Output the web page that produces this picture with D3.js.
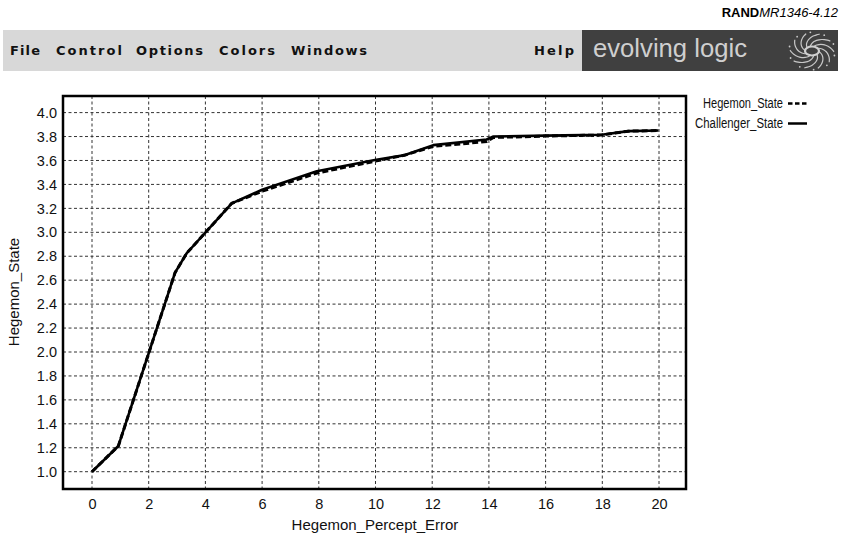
<!DOCTYPE html>
<html><head><meta charset="utf-8">
<script src="https://cdn.jsdelivr.net/npm/d3@7"></script>
<style>body{margin:0;background:#fff}svg{display:block}</style>
</head><body>
<svg id="c" width="842" height="540"></svg>
<script>
// ---- data ----
const xValues = [0, 0.93, 2.93, 3.34, 4.93, 6.0, 7.93, 9.98, 11.04, 12.04, 13.92, 14.16, 16.0, 17.98, 18.92, 19.98];
const challengerState = [1.0, 1.215, 2.663, 2.825, 3.242, 3.355, 3.51, 3.604, 3.645, 3.728, 3.775, 3.80, 3.808, 3.815, 3.845, 3.85];
const hegemonState = [1.0, 1.215, 2.663, 2.825, 3.242, 3.343, 3.495, 3.594, 3.645, 3.718, 3.758, 3.792, 3.804, 3.813, 3.845, 3.85];
const xTicks = [0, 2, 4, 6, 8, 10, 12, 14, 16, 18, 20];
const yTicks = [1.0, 1.2, 1.4, 1.6, 1.8, 2.0, 2.2, 2.4, 2.6, 2.8, 3.0, 3.2, 3.4, 3.6, 3.8, 4.0];
const seriesNames = ["Hegemon_State", "Challenger_State"];
const menuItems = ["File", "Control", "Options", "Colors", "Windows"];

const svg = d3.select("#c");
const font = "'Liberation Sans', Arial, Helvetica, sans-serif";

// header
const hdr = svg.append("text").attr("x", 838).attr("y", 17).attr("text-anchor", "end")
  .attr("font-family", font).attr("font-size", 13);
hdr.append("tspan").attr("font-weight", "bold").text("RAND");
hdr.append("tspan").attr("font-style", "italic").text("MR1346-4.12");

// menu bar
svg.append("rect").attr("x", 3).attr("y", 30).attr("width", 580).attr("height", 41).attr("fill", "#d8d8d8");
svg.append("rect").attr("x", 582).attr("y", 30).attr("width", 256).attr("height", 41).attr("fill", "#404040");
const menuX = [10, 56, 136, 219, 291];
const menuW = [30, 66, 67, 56, 76];
menuItems.forEach((m, i) => {
  svg.append("text").attr("x", menuX[i]).attr("y", 55).attr("font-family", "'DejaVu Sans', sans-serif")
    .attr("font-weight", "bold").attr("font-size", 13).attr("fill", "#111")
    .attr("textLength", menuW[i]).attr("lengthAdjust", "spacing").text(m);
});
svg.append("text").attr("x", 534).attr("y", 55).attr("font-family", "'DejaVu Sans', sans-serif")
  .attr("font-weight", "bold").attr("font-size", 13).attr("fill", "#111")
  .attr("textLength", 40).attr("lengthAdjust", "spacing").text("Help");
svg.append("text").attr("x", 593).attr("y", 57).attr("font-family", font).attr("font-size", 25)
  .attr("fill", "#cfcfcf").attr("textLength", 154).attr("lengthAdjust", "spacingAndGlyphs").text("evolving logic");
// swirl logo
const lg = svg.append("g").attr("transform", "translate(812,51)").attr("fill", "none").attr("stroke", "#c8c8c8").attr("stroke-width", 1.2);
for (let k = 0; k < 10; k++) {
  const a = k * 36 * Math.PI / 180;
  const pts = d3.range(0, 1.01, 0.1).map(t => {
    const r = 5 + t * 15, ang = a + t * 1.3;
    return [r * Math.cos(ang) * 1.1, r * Math.sin(ang) * 0.9];
  });
  lg.append("path").attr("d", d3.line().curve(d3.curveBasis)(pts));
  lg.append("circle").attr("cx", 22 * Math.cos(a + 1.5) * 1.05).attr("cy", 22 * Math.sin(a + 1.5) * 0.85)
    .attr("r", 0.9).attr("fill", "#c8c8c8").attr("stroke", "none");
}
lg.append("ellipse").attr("rx", 7).attr("ry", 4.5).attr("fill", "#404040").attr("stroke", "#d0d0d0").attr("stroke-width", 2.2);

// plot
const x = d3.scaleLinear().domain([0, 20]).range([92, 659]);
const y = d3.scaleLinear().domain([1.0, 4.0]).range([471.7, 112.6]);
const L = 63, R = 686, T = 96, B = 489;

const grid = svg.append("g").attr("stroke", "#333").attr("stroke-width", 1).attr("stroke-dasharray", "3,2.5");
xTicks.forEach(t => grid.append("line").attr("x1", x(t)).attr("x2", x(t)).attr("y1", T).attr("y2", B));
yTicks.forEach(t => grid.append("line").attr("x1", L).attr("x2", R).attr("y1", y(t)).attr("y2", y(t)));

const xAxis = svg.append("g").attr("transform", `translate(0,${B})`)
  .call(d3.axisBottom(x).tickValues(xTicks).tickSize(0).tickPadding(10).tickFormat(d3.format("d")));
const yAxis = svg.append("g").attr("transform", `translate(${L},0)`)
  .call(d3.axisLeft(y).tickValues(yTicks).tickSize(0).tickPadding(6).tickFormat(d3.format(".1f")));
[xAxis, yAxis].forEach(a => {
  a.select(".domain").remove();
  a.selectAll("text").attr("font-family", font).attr("font-size", 14.5).attr("fill", "#111");
});

const line = d3.line().x((d, i) => x(xValues[i])).y(d => y(d));
svg.append("path").datum(hegemonState).attr("d", line).attr("fill", "none").attr("stroke", "#000")
  .attr("stroke-width", 3).attr("stroke-dasharray", "6,3");
svg.append("path").datum(challengerState).attr("d", line).attr("fill", "none").attr("stroke", "#000")
  .attr("stroke-width", 2.6).attr("stroke-linejoin", "round");

svg.append("rect").attr("x", L).attr("y", T).attr("width", R - L).attr("height", B - T)
  .attr("fill", "none").attr("stroke", "#000").attr("stroke-width", 2.5);

// axis titles
svg.append("text").attr("x", 375).attr("y", 530).attr("text-anchor", "middle").attr("font-family", font)
  .attr("font-size", 15).attr("fill", "#111").text("Hegemon_Percept_Error");
svg.append("text").attr("transform", "translate(19,292) rotate(-90)").attr("text-anchor", "middle")
  .attr("font-family", font).attr("font-size", 15).attr("fill", "#111").text("Hegemon_State");

// legend
const lgY = [108, 128];
const lgW = [80, 88];
seriesNames.forEach((n, i) => {
  svg.append("text").attr("x", 783).attr("y", lgY[i]).attr("text-anchor", "end").attr("font-family", font)
    .attr("font-size", 14).attr("fill", "#111")
    .attr("textLength", lgW[i]).attr("lengthAdjust", "spacingAndGlyphs").text(n);
  svg.append("line").attr("x1", 788).attr("x2", 807).attr("y1", lgY[i] - 4.5).attr("y2", lgY[i] - 4.5)
    .attr("stroke", "#000").attr("stroke-width", 2.5).attr("stroke-dasharray", i === 0 ? "4.5,2.5" : null);
});
</script>
</body></html>
